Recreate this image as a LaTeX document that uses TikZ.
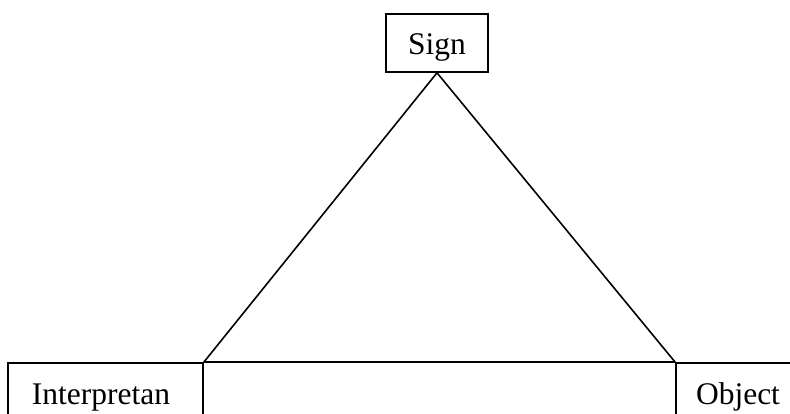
\documentclass[tikz,border=0pt]{standalone}
\usepackage{fontspec}
\setmainfont{Liberation Serif}
\begin{document}
\begin{tikzpicture}[x=1pt,y=-1pt,
  box/.style={draw=black,line width=1.6pt,rectangle,minimum height=58pt,inner sep=0pt,
    font=\fontsize{31.5}{36}\selectfont,text height=27pt,text depth=3pt},
  edge/.style={draw=black,line width=1.6pt}]
\useasboundingbox (0,0) rectangle (790,414);
\clip (0,0) rectangle (790,414);
\fill[white] (0,0) rectangle (790,414);
\node[box,minimum width=102pt] (sign) at (437,43) {Sign};
\node[box,minimum width=195pt] (interp) at (105.5,392) {Interpretan\hspace*{9pt}};
\node[box,minimum width=124pt] (object) at (738,392) {Object};
\draw[edge] (sign.south) -- (interp.north east);
\draw[edge] (sign.south) -- (object.north west);
\draw[edge] (interp.north east) -- (object.north west);
\end{tikzpicture}
\end{document}
